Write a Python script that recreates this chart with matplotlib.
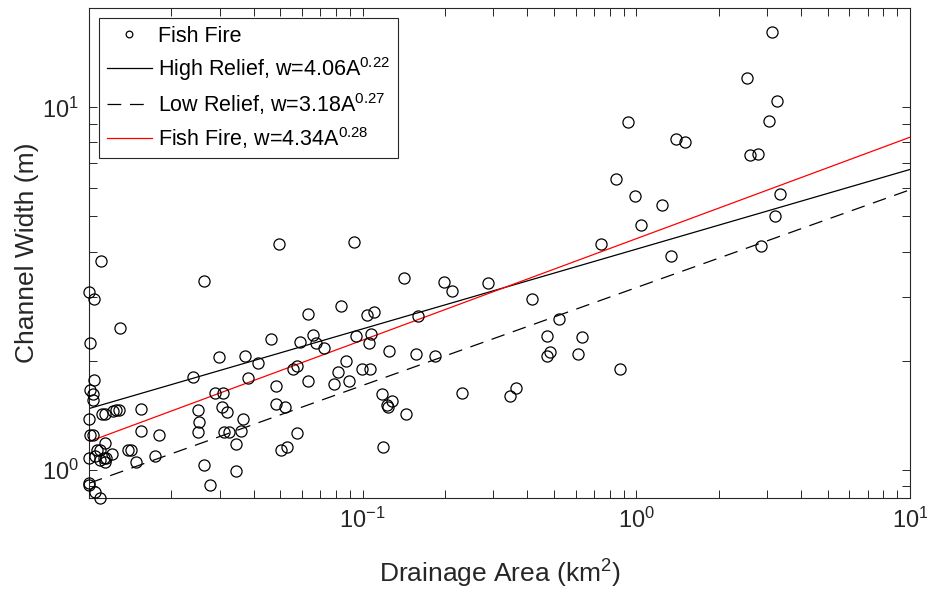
import numpy as np
import matplotlib
matplotlib.use("Agg")
import matplotlib.pyplot as plt
from matplotlib.ticker import FixedLocator, LogLocator, NullFormatter, LogFormatterSciNotation

plt.rcParams['font.family'] = ['Liberation Sans', 'DejaVu Sans']
plt.rcParams['mathtext.fontset'] = 'custom'
plt.rcParams['mathtext.rm'] = 'Liberation Sans'
plt.rcParams['mathtext.it'] = 'Liberation Sans:italic'
plt.rcParams['mathtext.bf'] = 'Liberation Sans:bold'
plt.rcParams['axes.unicode_minus'] = False

# Fish Fire channel survey: drainage area (km2) and channel width (m)
area = [
    0.0111, 0.0100, 0.0104, 0.0130, 0.0101, 0.0104, 0.0101, 0.0103, 0.0103, 0.0100,
    0.0112, 0.0114, 0.0122, 0.0126, 0.0129, 0.0155, 0.0101, 0.0103, 0.0114, 0.0155,
    0.0180, 0.0100, 0.0105, 0.0107, 0.0110, 0.0110, 0.0113, 0.0115, 0.0114, 0.0121,
    0.0139, 0.0142, 0.0148, 0.0174, 0.0100, 0.0100, 0.0105, 0.0110,
    0.0263, 0.0240, 0.0250, 0.0252, 0.0250, 0.0263, 0.0277, 0.0289, 0.0308, 0.0298,
    0.0306, 0.0319, 0.0365, 0.0311, 0.0324, 0.0359, 0.0344, 0.0344, 0.0371, 0.0380,
    0.0414, 0.0461, 0.0494, 0.0481, 0.0481, 0.0502, 0.0528, 0.0519, 0.0555, 0.0574,
    0.0589, 0.0630, 0.0630, 0.0574, 0.0657, 0.0674, 0.0721, 0.0784, 0.0811, 0.0831,
    0.0867, 0.0889, 0.0927, 0.0943, 0.0992, 0.1060, 0.1034, 0.1097, 0.1069, 0.1051,
    0.1173, 0.1183, 0.1224, 0.1234, 0.1276, 0.1245, 0.1411, 0.1435, 0.1561, 0.1588,
    0.1832, 0.1975, 0.2113, 0.2859, 0.2297, 0.3467, 0.3648, 0.4173, 0.5236, 0.4732,
    0.6353, 0.4853, 0.4732, 0.6141, 0.7451, 0.8743, 0.8452, 0.935, 0.9917, 1.043,
    1.244, 1.342, 1.400, 1.509, 2.542, 3.136, 3.270, 3.058, 2.606, 2.788,
    3.354, 3.216, 2.859,
]
width = [
    3.77, 3.10, 2.96, 2.46, 2.24, 1.77, 1.66, 1.62, 1.56, 1.38,
    1.42, 1.42, 1.45, 1.46, 1.46, 1.47, 1.25, 1.25, 1.185, 1.28,
    1.25, 1.08, 1.09, 1.13, 1.13, 1.06, 1.08, 1.08, 1.05, 1.105,
    1.13, 1.13, 1.05, 1.09, 0.919, 0.907, 0.868, 0.835,
    3.32, 1.80, 1.46, 1.35, 1.27, 1.03, 0.907, 1.63, 1.63, 2.05,
    1.49, 1.44, 1.38, 1.27, 1.27, 1.28, 1.18, 0.992, 2.06, 1.79,
    1.97, 2.30, 4.20, 1.70, 1.52, 1.13, 1.155, 1.49, 1.89, 1.93,
    2.25, 2.69, 1.76, 1.26, 2.36, 2.24, 2.17, 1.72, 1.86, 2.83,
    2.00, 1.76, 4.26, 2.34, 1.89, 1.90, 2.68, 2.73, 2.37, 2.23,
    1.62, 1.155, 1.51, 1.49, 1.55, 2.13, 3.39, 1.42, 2.09, 2.66,
    2.06, 3.30, 3.12, 3.28, 1.63, 1.60, 1.68, 2.96, 2.61, 2.34,
    2.33, 2.11, 2.06, 2.09, 4.20, 1.90, 6.35, 9.13, 5.70, 4.74,
    5.39, 3.89, 8.19, 8.04, 12.08, 16.19, 10.43, 9.19, 7.40, 7.45,
    5.78, 5.02, 4.15,
]

# power-law fits w = c * A^b
fit_names = ['High Relief', 'Low Relief', 'Fish Fire']
fit_coef = [4.06, 3.18, 4.34]
fit_exp = [0.22, 0.27, 0.28]
fit_area = np.array([0.01, 10.0])

fig = plt.figure(figsize=(9.28, 5.92), dpi=100)
ax = fig.add_axes([89 / 928, 94 / 592, 821 / 928, 490 / 592])

dark = '0.15'
ax.plot(area, width, 'o', ls='none', ms=8, mfc='none', mec='k', mew=0.9,
        clip_on=False, label='Fish Fire', zorder=3)

styles = [dict(color='k', ls='-'),
          dict(color='k', ls=(0, (11, 7))),
          dict(color='red', ls='-')]
for name, c, b, st in zip(fit_names, fit_coef, fit_exp, styles):
    ax.plot(fit_area, c * fit_area ** b, lw=0.9, **st,
            label='%s, w=%.2fA$^{%.2f}$' % (name, c, b))

ax.set_xscale('log')
ax.set_yscale('log')
ax.set_xlim(0.01, 10)
ax.set_ylim(0.835, 18.8)
ax.xaxis.set_major_locator(FixedLocator([0.1, 1, 10]))
ax.yaxis.set_major_locator(FixedLocator([1, 10]))
ax.xaxis.set_major_formatter(LogFormatterSciNotation())
ax.yaxis.set_major_formatter(LogFormatterSciNotation())
ax.xaxis.set_minor_locator(LogLocator(base=10, subs=np.arange(2, 10)))
ax.yaxis.set_minor_locator(LogLocator(base=10, subs=np.arange(2, 10)))
ax.xaxis.set_minor_formatter(NullFormatter())
ax.yaxis.set_minor_formatter(NullFormatter())

ax.tick_params(which='both', direction='in', top=True, right=True,
               length=5.5, width=0.7, color=dark, labelsize=17, labelcolor=dark, pad=7)
for s in ax.spines.values():
    s.set_color(dark)
    s.set_linewidth(0.8)

ax.set_xlabel('Drainage Area (km$^2$)', fontsize=19, color=dark, labelpad=18)
ax.set_ylabel('Channel Width (m)', fontsize=19, color=dark, labelpad=2)

leg = ax.legend(loc='upper left', bbox_to_anchor=(10 / 821, 1 - 10 / 490),
                borderaxespad=0, fontsize=15.5, fancybox=False, framealpha=1,
                edgecolor=dark, handlelength=2.1, handletextpad=0.3,
                labelspacing=0.38, borderpad=0.35, markerscale=0.6)
leg.get_frame().set_linewidth(0.8)
for t in leg.get_texts():
    t.set_color('k')

fig.savefig('out.png', dpi=100)
